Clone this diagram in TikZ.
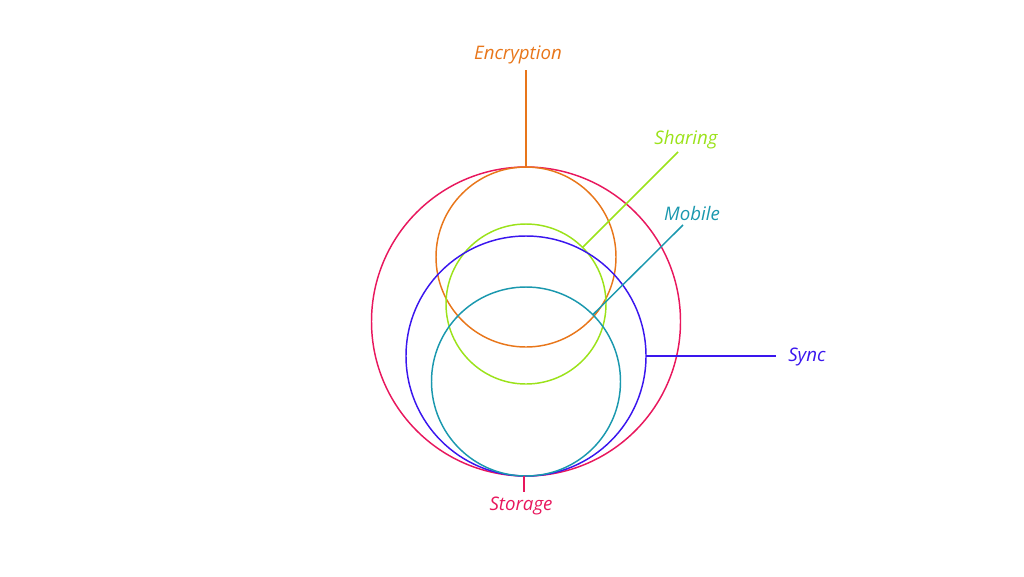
\documentclass[tikz,border=0pt]{standalone}
\usepackage{fontspec}
\setmainfont{Open Sans}
\definecolor{cenc}{HTML}{E8761A}
\definecolor{cshr}{HTML}{9BE21A}
\definecolor{cmob}{HTML}{1A98AE}
\definecolor{csyn}{HTML}{3A16EE}
\definecolor{csto}{HTML}{E8175D}
\begin{document}
\begin{tikzpicture}[x=0.75pt,y=-0.75pt,
  ring/.style={circle,draw,line width=1.1pt,inner sep=0pt,outer sep=0pt,minimum size=#1*0.75pt},
  lead/.style={line width=1.1pt},
  lbl/.style={font=\fontsize{14}{16}\selectfont\itshape,inner sep=0pt}]
\useasboundingbox (0,0) rectangle (1024,576);
\node[ring=309,draw=csto] (sto) at (526,321.5) {};
\node[ring=180,draw=cenc] (enc) at (526,257) {};
\node[ring=160,draw=cshr] (shr) at (526,304) {};
\node[ring=240,draw=csyn] (syn) at (526,356) {};
\node[ring=189,draw=cmob] (mob) at (526,381.5) {};
% labels
\node[lbl,text=cenc] (lenc) at (518,55) {Encryption};
\node[lbl,text=cshr] (lshr) at (686,140) {Sharing};
\node[lbl,text=cmob] (lmob) at (692,213) {Mobile};
\node[lbl,text=csyn,anchor=west] (lsyn) at (788,357) {Sync};
\node[lbl,text=csto] (lsto) at (521,506) {Storage};
% leader ends
\coordinate (eenc) at (526,70);
\coordinate (eshr) at (678,152);
\coordinate (emob) at (683,225);
\coordinate (esyn) at (776,356);
\coordinate (esto) at (524,492);
\draw[lead,cenc] (enc.north) -- (eenc);
\draw[lead,cshr] (shr.45) -- (eshr);
\draw[lead,cmob] (mob.45) -- (emob);
\draw[lead,csyn] (syn.east) -- (esyn);
\draw[lead,csto] (524,476) -- (esto);
\end{tikzpicture}
\end{document}
